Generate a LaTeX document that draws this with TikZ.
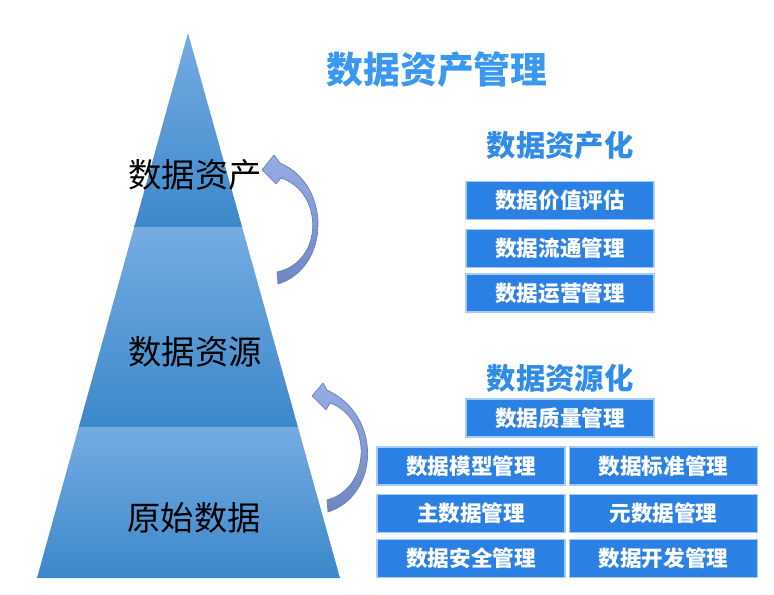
\documentclass[tikz,border=0pt]{standalone}
\usepackage{fontspec}
\newfontfamily\cjk{Noto Sans CJK SC}
\definecolor{triTop}{RGB}{116,172,226}
\definecolor{triBot}{RGB}{60,136,202}
\definecolor{titleblue}{RGB}{58,152,240}
\definecolor{subblue}{RGB}{48,140,232}
\definecolor{boxblue}{RGB}{43,128,228}
\definecolor{boxedge}{RGB}{165,204,246}
\definecolor{arrLight}{RGB}{150,172,228}
\definecolor{arrDark}{RGB}{112,134,194}
\definecolor{arrLine}{RGB}{100,124,190}
\begin{document}
\begin{tikzpicture}[x=0.75pt,y=-0.75pt,
  layerlabel/.style={font=\cjk\fontsize{25pt}{28pt}\selectfont, text=black, inner sep=0pt},
  maintitle/.style={font=\cjk\bfseries\fontsize{27.6pt}{30pt}\selectfont, text=titleblue, inner sep=0pt},
  subtitle/.style={font=\cjk\bfseries\fontsize{22pt}{25pt}\selectfont, text=subblue, inner sep=0pt},
  itembox/.style={fill=boxblue, draw=boxedge, line width=0.8pt, text=white, inner sep=0pt,
    font=\cjk\bfseries\fontsize{16.2pt}{18pt}\selectfont, minimum width=141pt, minimum height=28.5pt},
  curvedarrow/.style={top color=arrLight, bottom color=arrDark, draw=arrLine, line width=0.5pt}
]
\useasboundingbox (0,0) rectangle (774,595);
% pyramid sections
\shade[top color=triTop, bottom color=triBot] (188,33) -- (242.1,227) -- (134.25,227) -- cycle;
\shade[top color=triTop, bottom color=triBot] (134.25,227) -- (242.1,227) -- (297.9,427) -- (78.8,427) -- cycle;
\shade[top color=triTop, bottom color=triBot] (78.8,427) -- (297.9,427) -- (340,578) -- (37,578) -- cycle;
% layer labels
\node[layerlabel] (asset) at (195,175) {数据资产};
\node[layerlabel] (resource) at (195,352) {数据资源};
\node[layerlabel] (raw) at (194,518) {原始数据};
% curved arrows
\shade[curvedarrow] (278,284) .. controls (330,268) and (332,185) .. (280,163)
  -- (274,155) -- (262,170) -- (276,184) -- (281,178)
  .. controls (324,192) and (324,262) .. (277,272) -- cycle;
\shade[curvedarrow] (328,512) .. controls (380,495) and (382,415) .. (327,390)
  -- (323,383) -- (312,396) -- (326,410) -- (330,403)
  .. controls (372,418) and (372,488) .. (327,500) -- cycle;
% titles
\node[maintitle] (title) at (437,70) {数据资产管理};
\node[subtitle] (assetize) at (560,145) {数据资产化};
\node[subtitle] (resourcize) at (560,378) {数据资源化};
% asset boxes
\node[itembox] (b1) at (560,200.5) {数据价值评估};
\node[itembox] (b2) at (560,248.5) {数据流通管理};
\node[itembox] (b3) at (560,293) {数据运营管理};
% resource boxes
\node[itembox] (r0) at (560,418) {数据质量管理};
\node[itembox] (r1) at (471,466) {数据模型管理};
\node[itembox] (r2) at (663.5,466) {数据标准管理};
\node[itembox] (r3) at (471,513.5) {主数据管理};
\node[itembox] (r4) at (663.5,513.5) {元数据管理};
\node[itembox] (r5) at (471,558.5) {数据安全管理};
\node[itembox] (r6) at (663.5,558.5) {数据开发管理};
\end{tikzpicture}
\end{document}
